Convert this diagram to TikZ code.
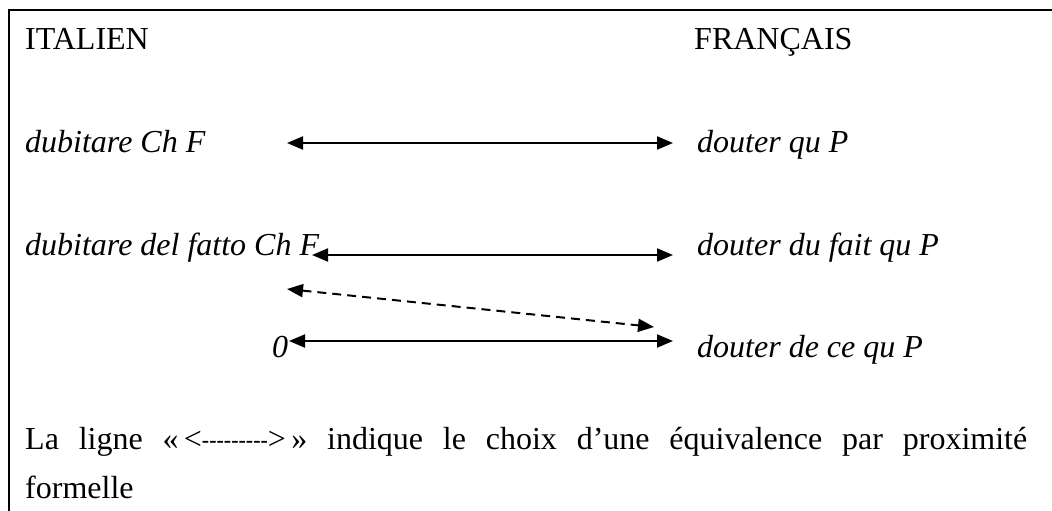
\documentclass[tikz,border=0pt]{standalone}
\usepackage{fontspec}
\setmainfont{Liberation Serif}
\usetikzlibrary{arrows.meta}
\newcommand{\dashrun}{\raisebox{1.5pt}{\fontsize{22}{22}\selectfont\bfseries -{}-{}-{}-{}-{}-{}-{}-{}-}}
\begin{document}
\begin{tikzpicture}[x=1pt,y=-1pt,
  lbl/.style={anchor=base west,inner sep=0pt,font=\fontsize{32}{49}\selectfont},
  ilbl/.style={lbl,font=\fontsize{32}{49}\selectfont\itshape},
  equiv/.style={line width=2pt,{Triangle[length=16pt,width=13pt]}-{Triangle[length=16pt,width=13pt]}},
  prox/.style={equiv,dash pattern=on 9pt off 6pt},
  frame/.style={line width=2.5pt}]
\useasboundingbox (0,0) rectangle (1052,511);
\draw[frame] (9,511) -- (9,10) -- (1052,10);
\node[lbl] (it) at (25,50) {ITALIEN};
\node[lbl] (fr) at (694,50) {FRANÇAIS};
\node[ilbl] (i1) at (25,152) {dubitare Ch F};
\node[ilbl] (f1) at (697,152) {douter qu P};
\node[ilbl] (i2) at (25,255) {dubitare del fatto Ch F};
\node[ilbl] (f2) at (697,255) {douter du fait qu P};
\node[ilbl] (i3) at (272,357) {0};
\node[ilbl] (f3) at (697,357) {douter de ce qu P};
\coordinate (a1l) at (287,143);
\coordinate (a1r) at (673,143);
\coordinate (a2l) at (312,255);
\coordinate (a2r) at (673,255);
\coordinate (dl) at (287,289);
\coordinate (dr) at (654,327);
\coordinate (a3l) at (289,341);
\coordinate (a3r) at (673,341);
\draw[equiv] (a1l) -- (a1r);
\draw[equiv] (a2l) -- (a2r);
\draw[prox] (dl) -- (dr);
\draw[equiv] (a3l) -- (a3r);
\node[lbl,text width=1002pt,align=justify] (note) at (25,449)
  {La ligne «\,<\dashrun>\,» indique le choix d’une équivalence par proximité\linebreak formelle};
\end{tikzpicture}
\end{document}
